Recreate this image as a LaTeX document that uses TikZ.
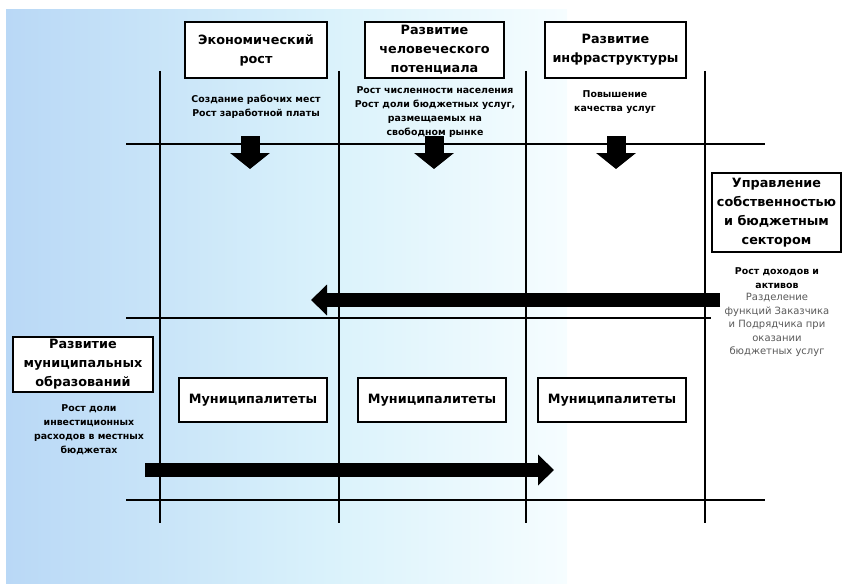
\documentclass[tikz,border=0pt]{standalone}
\usepackage{fontspec}
\setmainfont{DejaVu Sans}
\usetikzlibrary{arrows.meta}

\definecolor{skyleft}{RGB}{185,216,246}
\definecolor{skymid}{RGB}{218,242,251}
\definecolor{skyright}{RGB}{246,253,255}

\tikzset{
    titlebox/.style={draw,line width=1.7pt,fill=white,align=center,inner sep=0pt,
        font=\bfseries\fontsize{12.8}{19}\selectfont},
    note/.style={align=center,font=\bfseries\fontsize{9.4}{14}\selectfont},
    softnote/.style={align=center,text=black!65,font=\fontsize{10}{13.5}\selectfont},
    gridline/.style={line width=2.8pt},
    downarrow/.style={line width=19pt,-{Triangle[length=16pt,width=39pt]}},
    longarrow/.style={line width=14pt,-{Triangle[length=16pt,width=30pt]}}
}

\begin{document}
\begin{tikzpicture}[x=1pt,y=-1pt]
    \useasboundingbox (0,0) rectangle (842,583);
    % background
    \shade[left color=skyleft,right color=skymid] (6,10) rectangle (330,583);
    \shade[left color=skymid,right color=skyright] (330,10) rectangle (567,583);

    % grid
    \foreach \x in {160,339,526,705}
        \draw[gridline] (\x,71) -- (\x,523);
    \draw[gridline] (126,144) -- (765,144);
    \draw[gridline] (126,318) -- (711,318);
    \draw[gridline] (126,500) -- (765,500);

    % top boxes
    \node[titlebox,minimum width=142pt,minimum height=56pt] (econ) at (256,50)
        {Экономический\\рост};
    \node[titlebox,minimum width=139pt,minimum height=56pt] (human) at (434.5,50)
        {Развитие\\человеческого\\потенциала};
    \node[titlebox,minimum width=141pt,minimum height=56pt] (infra) at (615.5,50)
        {Развитие\\инфраструктуры};
    \node[titlebox,minimum width=129pt,minimum height=79pt] (manage) at (776.5,212.5)
        {Управление\\собственностью\\и бюджетным\\сектором};
    \node[titlebox,minimum width=140pt,minimum height=55pt] (munidev) at (83,364.5)
        {Развитие\\муниципальных\\образований};

    % municipalities
    \node[titlebox,minimum width=148pt,minimum height=44pt] (muni1) at (253,400) {Муниципалитеты};
    \node[titlebox,minimum width=148pt,minimum height=44pt] (muni2) at (432,400) {Муниципалитеты};
    \node[titlebox,minimum width=148pt,minimum height=44pt] (muni3) at (612,400) {Муниципалитеты};

    % notes
    \node[note] (econnote) at (256,107) {Создание рабочих мест\\Рост заработной платы};
    \node[note] (humannote) at (435,112) {Рост численности населения\\Рост доли бюджетных услуг,\\размещаемых на\\свободном рынке};
    \node[note] (infranote) at (615,102) {Повышение\\качества услуг};
    \node[note] (managenote) at (777,278.5) {Рост доходов и\\активов};
    \node[softnote] (splitnote) at (777,325) {Разделение\\функций Заказчика\\и Подрядчика при\\оказании\\бюджетных услуг};
    \node[note] (muninote) at (89,429.5) {Рост доли\\инвестиционных\\расходов в местных\\бюджетах};

    % arrows
    \coordinate (econin) at (250,136);
    \coordinate (econout) at (250,169);
    \coordinate (humanin) at (434,136);
    \coordinate (humanout) at (434,169);
    \coordinate (infrain) at (616,136);
    \coordinate (infraout) at (616,169);
    \draw[downarrow] (econin) -- (econout);
    \draw[downarrow] (humanin) -- (humanout);
    \draw[downarrow] (infrain) -- (infraout);

    \coordinate (backfrom) at (720,300);
    \coordinate (backto) at (311,300);
    \draw[longarrow] (backfrom) -- (backto);
    \coordinate (pushfrom) at (145,470);
    \coordinate (pushto) at (554,470);
    \draw[longarrow] (pushfrom) -- (pushto);
\end{tikzpicture}
\end{document}
